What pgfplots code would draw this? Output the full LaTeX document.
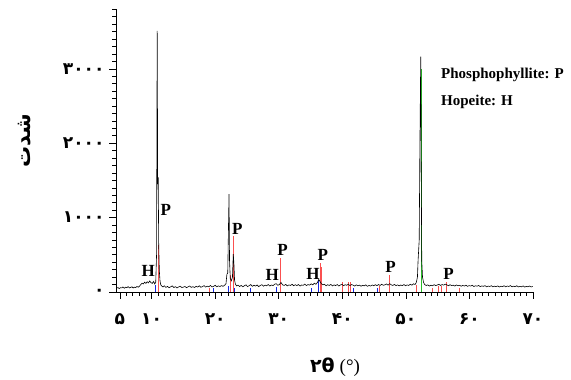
\documentclass[border=0pt]{standalone}
\usepackage{fontspec}
\setmainfont{Liberation Serif}
\newfontfamily\arabicfont[Script=Arabic]{DejaVu Sans}
\usepackage{pgfplots}
\pgfplotsset{compat=1.18}
\TeXXeTstate=1
\definecolor{stickred}{RGB}{250,80,80}
\definecolor{stickblue}{RGB}{20,40,230}
\definecolor{stickgreen}{RGB}{40,190,40}
\begin{document}
\begin{tikzpicture}[x=1pt,y=1pt]
\useasboundingbox (0,0) rectangle (571,380);
\begin{axis}[
  at={(116pt,88pt)}, anchor=south west,
  scale only axis, width=417pt, height=282.7pt,
  xmin=4.4, xmax=70, ymin=0, ymax=3800,
  axis x line*=bottom, axis y line*=left,
  axis line style={black, line width=0.8pt},
  tick align=outside,
  major tick length=7pt, minor tick length=4pt,
  tick style={black, line width=0.6pt},
  xtick={5,10,20,30,40,50,60,70},
  xticklabels={۵,۱۰,۲۰,۳۰,۴۰,۵۰,۶۰,۷۰},
  minor xtick={5,6,...,70},
  ytick={0,1000,2000,3000},
  yticklabels={۰,۱۰۰۰,۲۰۰۰,۳۰۰۰},
  minor ytick={100,200,...,3800},
  ticklabel style={font=\arabicfont\bfseries\fontsize{17}{17}\selectfont},
  xticklabel style={yshift=-11pt},
  yticklabel style={xshift=-1pt},
  clip=false,
]
% reference sticks
\addplot[stickred, ycomb, line width=0.9pt, no marks] coordinates {
(11.15,635) (19.1,55) (22.4,232) (22.94,750) (30.3,460) (36.55,385) (36.75,330)
(39.97,134) (41.0,134) (41.3,134) (45.9,76) (47.36,232) (51.7,95)
(54.2,60) (55.1,80) (55.6,80) (56.35,135) (58.5,50)
};
\addplot[stickblue, ycomb, line width=0.9pt, no marks] coordinates {
(10.6,100) (19.8,50) (22.05,80) (23.1,60) (25.6,50) (29.65,70) (35.2,60)
(36.3,165) (41.7,60) (45.5,55)
};
\addplot[stickgreen, ycomb, line width=0.9pt, no marks] coordinates {(52.45,3000)};
% measured pattern
\addplot[black, line width=0.6pt, no marks] coordinates {
(4.5,52) (4.7,60) (4.9,46) (5.1,58) (5.3,55) (5.5,68) (5.7,50) (5.9,64) (6.1,58)
(6.3,72) (6.5,55) (6.7,62) (6.9,70) (7.1,54) (7.3,66) (7.5,60) (7.7,74) (7.9,64)
(8.1,78) (8.3,100) (8.5,118) (8.7,108) (8.9,132) (9.1,115) (9.3,138) (9.5,122)
(9.7,148) (9.9,126) (10.1,115) (10.3,142) (10.5,108) (10.65,130) (10.78,500)
(10.88,3510) (10.96,1450) (11.04,1540) (11.12,620) (11.22,280) (11.32,150)
(11.45,96) (11.6,80) (11.8,68) (12.0,84) (12.25,62) (12.5,75) (12.75,58) (13.0,70)
(13.25,82) (13.5,60) (13.75,72) (14.0,55) (14.25,68) (14.5,78) (14.75,60) (15.0,66)
(15.25,74) (15.5,58) (15.75,70) (16.0,80) (16.25,62) (16.5,72) (16.75,60) (17.0,76)
(17.25,66) (17.5,84) (17.75,64) (18.0,72) (18.25,86) (18.5,66) (18.75,78) (19.0,70)
(19.25,88) (19.5,68) (19.75,76) (20.0,90) (20.25,70) (20.5,82) (20.75,74) (21.0,86)
(21.25,76) (21.5,92) (21.7,110) (21.85,240) (21.98,255) (22.1,900) (22.18,1315)
(22.26,420) (22.38,180) (22.55,150) (22.72,200) (22.85,510) (22.95,380) (23.05,160)
(23.2,100) (23.4,82) (23.6,92) (23.85,74) (24.1,88) (24.35,70) (24.6,84) (24.85,96)
(25.1,72) (25.35,86) (25.6,100) (25.85,76) (26.1,90) (26.35,80) (26.6,94) (26.85,72)
(27.1,88) (27.35,98) (27.6,78) (27.85,92) (28.1,84) (28.35,100) (28.6,80) (28.85,94)
(29.1,86) (29.35,104) (29.6,112) (29.85,90) (30.1,100) (30.35,128) (30.6,96)
(30.85,88) (31.1,102) (31.35,82) (31.6,96) (31.85,88) (32.1,104) (32.35,84) (32.6,98)
(32.85,86) (33.1,100) (33.35,80) (33.6,94) (33.85,90) (34.1,106) (34.35,86) (34.6,100)
(34.85,92) (35.1,110) (35.35,96) (35.6,118) (35.85,104) (36.1,130) (36.3,170)
(36.5,140) (36.7,112) (36.95,96) (37.2,104) (37.45,84) (37.7,98) (37.95,88) (38.2,102)
(38.45,82) (38.7,96) (38.95,86) (39.2,100) (39.45,80) (39.7,94) (39.95,104) (40.2,84)
(40.45,98) (40.7,90) (40.95,106) (41.2,86) (41.45,100) (41.7,92) (41.95,80) (42.2,96)
(42.45,84) (42.7,92) (42.95,78) (43.2,90) (43.45,82) (43.7,96) (43.95,76) (44.2,88)
(44.45,80) (44.7,94) (44.95,84) (45.2,98) (45.45,86) (45.7,100) (45.95,88) (46.2,104)
(46.45,90) (46.7,96) (46.95,108) (47.2,92) (47.45,112) (47.7,96) (47.95,88) (48.2,102)
(48.45,86) (48.7,96) (48.95,82) (49.2,94) (49.45,86) (49.7,100) (49.95,84) (50.2,96)
(50.45,88) (50.7,104) (50.95,92) (51.2,110) (51.45,100) (51.65,130) (51.82,200)
(51.92,420) (52.1,700) (52.2,1890) (52.34,3164) (52.42,1600) (52.5,420) (52.62,200)
(52.78,130) (52.95,100) (53.2,88) (53.45,96) (53.7,80) (53.95,92) (54.2,84) (54.45,98)
(54.7,86) (54.95,94) (55.2,104) (55.45,88) (55.7,100) (55.95,92) (56.2,106) (56.45,96)
(56.7,84) (56.95,98) (57.2,86) (57.45,92) (57.7,80) (57.95,94) (58.2,84) (58.45,90)
(58.7,78) (58.95,88) (59.2,80) (59.45,92) (59.7,76) (59.95,86) (60.2,80) (60.45,90)
(60.7,74) (60.95,84) (61.2,78) (61.45,88) (61.7,72) (61.95,82) (62.2,76) (62.45,86)
(62.7,70) (62.95,80) (63.2,74) (63.45,84) (63.7,70) (63.95,78) (64.2,72) (64.45,82)
(64.7,68) (64.95,78) (65.2,72) (65.45,84) (65.7,70) (65.95,80) (66.2,74) (66.45,86)
(66.7,70) (66.95,78) (67.2,72) (67.45,84) (67.7,68) (67.95,76) (68.2,70) (68.45,82)
(68.7,66) (68.95,76) (69.2,70) (69.45,80) (69.7,68) (69.95,74)
};
% peak labels
\begin{scope}[every node/.style={font=\bfseries\fontsize{17}{17}\selectfont, inner sep=0pt}]
\node at (axis cs:9.47,280) {H};
\node at (axis cs:12.25,1099) {P};
\node at (axis cs:23.5,851) {P};
\node at (axis cs:28.96,234) {H};
\node at (axis cs:30.6,572) {P};
\node at (axis cs:35.4,243) {H};
\node at (axis cs:36.93,496) {P};
\node at (axis cs:47.58,334) {P};
\node at (axis cs:56.7,247) {P};
\end{scope}
\end{axis}
\node[anchor=west, inner sep=0pt, font=\bfseries\fontsize{15}{15}\selectfont] at (441,305) {Phosphophyllite: P};
\node[anchor=west, inner sep=0pt, font=\bfseries\fontsize{15}{15}\selectfont] at (441,278.3) {Hopeite: H};
\node[rotate=90, inner sep=0pt, font=\arabicfont\bfseries\fontsize{21}{21}\selectfont] at (24.5,239) {\beginR شدت\endR};
\node[inner sep=0pt] at (335,13) {{\arabicfont\bfseries\fontsize{19}{19}\selectfont ۲θ}\hspace{5pt}{\fontsize{19}{19}\selectfont (°)}};
\end{tikzpicture}
\end{document}
